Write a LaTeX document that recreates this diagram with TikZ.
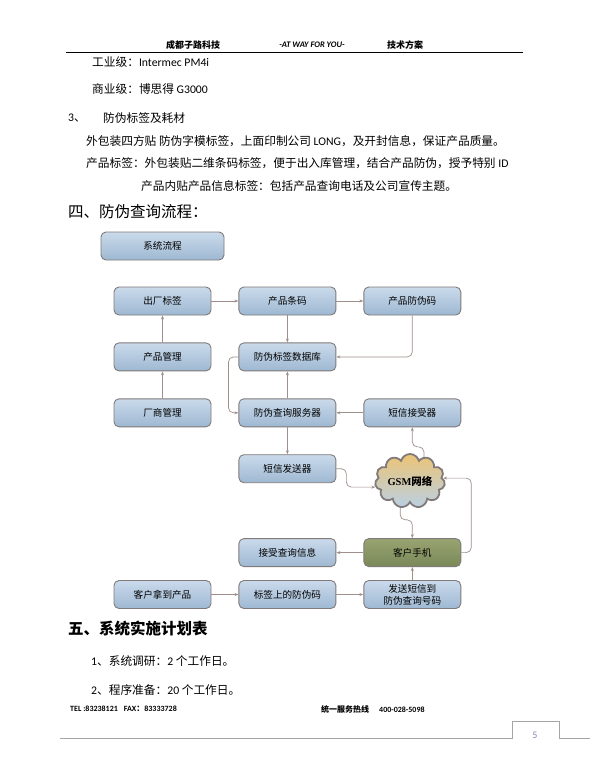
\documentclass[tikz,border=0pt]{standalone}
\usepackage{fontspec}
\setmainfont{Carlito}
\newfontfamily\cjk{Noto Sans CJK SC}
\newfontfamily\gsmserif{Liberation Serif}
\usetikzlibrary{positioning, arrows.meta, shapes.symbols}

\definecolor{boxtop}{RGB}{202,218,235}
\definecolor{boxbot}{RGB}{158,184,210}
\definecolor{boxline}{RGB}{128,122,120}
\definecolor{arrline}{RGB}{158,143,138}
\definecolor{olivetop}{RGB}{152,164,114}
\definecolor{olivebot}{RGB}{122,136,88}
\definecolor{cloudtop}{RGB}{236,196,118}
\definecolor{cloudbot}{RGB}{186,208,228}
\definecolor{pagegray}{RGB}{165,165,165}

\begin{document}
\begin{tikzpicture}[
  x=1pt, y=-1pt, >=Stealth,
  box/.style={draw=boxline, line width=0.9pt, rounded corners=5pt,
              top color=boxtop, bottom color=boxbot,
              minimum width=97pt, minimum height=28pt, inner sep=1pt,
              align=center, text=black,
              font=\cjk\fontsize{9.6}{12}\selectfont},
  arr/.style={draw=arrline, line width=0.7pt, rounded corners=5pt,
              -{Stealth[length=4pt,width=3pt]}},
  txt/.style={anchor=west, inner sep=0pt, font=\fontsize{11.7}{14}\selectfont},
  hdr/.style={inner sep=0pt, font=\bfseries\fontsize{8.5}{10}\selectfont},
]
\fill[white] (0,0) rectangle (590,764);
\useasboundingbox (0,0) rectangle (590,764);

% page header
\node[hdr, font=\cjk\bfseries\fontsize{9}{10}\selectfont] (hdfirm) at (193,45) {成都子路科技};
\node[hdr, font=\bfseries\itshape\fontsize{8.5}{10}\selectfont] (hdslogan) at (312,45) {-AT WAY FOR YOU-};
\node[hdr, font=\cjk\bfseries\fontsize{9}{10}\selectfont] (hdtitle) at (405,45) {技术方案};
\draw[line width=0.8pt] (66,52) -- (523,52);

% text above the chart
\node[txt] (gongye) at (92,62) {{\cjk 工业级：}Intermec PM4i};
\node[txt] (shangye) at (92,89) {{\cjk 商业级：博思得 }G3000};
\node[txt] (item3) at (68,118) {3{\cjk 、}};
\node[txt] (haocai) at (103,118) {\cjk 防伪标签及耗材};
\node[txt] (waibao) at (86,141) {{\cjk 外包装四方贴 防伪字模标签，上面印制公司 }LONG{\cjk ，及开封信息，保证产品质量。}};
\node[txt] (biaoqianinfo) at (86,163) {{\cjk 产品标签：外包装贴二维条码标签，便于出入库管理，结合产品防伪，授予特别 }ID};
\node[txt] (neitie) at (141,186) {\cjk 产品内贴产品信息标签：包括产品查询电话及公司宣传主题。};
\node[txt, font=\cjk\fontsize{15.5}{18}\selectfont] (title4) at (68,212) {四、防伪查询流程：};

% flow chart
\node[box, minimum width=123pt] (liucheng) at (162.5,246) {系统流程};
\node[box] (chuchang) at (162.5,301) {出厂标签};
\node[box, right=27pt of chuchang] (tiaoma) {产品条码};
\node[box, right=27pt of tiaoma] (fangweima) {产品防伪码};
\node[box, below=27pt of chuchang] (guanli) {产品管理};
\node[box, below=27pt of tiaoma] (shujuku) {防伪标签数据库};
\node[box, below=27pt of guanli] (changshang) {厂商管理};
\node[box, below=27pt of shujuku] (fuwuqi) {防伪查询服务器};
\node[box, right=27pt of fuwuqi] (jieshouqi) {短信接受器};
\node[box, below=27pt of fuwuqi] (fasongqi) {短信发送器};
\node[box, below=55pt of fasongqi] (jieshou) {接受查询信息};
\node[box, right=27pt of jieshou, top color=olivetop, bottom color=olivebot] (shouji) {客户手机};
\node[box, below=13pt of jieshou] (biaoqian) {标签上的防伪码};
\node[box, left=27pt of biaoqian] (nadao) {客户拿到产品};
\node[box, right=27pt of biaoqian] (fasong) {发送短信到\\防伪查询号码};

% GSM cloud
\node[cloud, cloud puffs=11, cloud ignores aspect, draw=boxline, line width=1.8pt,
      top color=cloudtop, bottom color=cloudbot,
      minimum width=70pt, minimum height=54pt, inner sep=0pt,
      text=black, font=\bfseries\fontsize{10.5}{12}\selectfont] (gsm) at (410,481)
      {{\gsmserif GSM}{\cjk 网络}};

% connectors
\draw[arr] (chuchang) -- (tiaoma);
\draw[arr] (tiaoma) -- (fangweima);
\draw[arr] (guanli) -- (chuchang);
\draw[arr] (changshang) -- (guanli);
\draw[arr] (tiaoma) -- (shujuku);
\draw[arr] (fangweima) |- (shujuku);
\draw[arr] (fuwuqi) -- (shujuku);
\draw[arr] (shujuku.west) -- ++(-10,0) |- (fuwuqi.west);
\draw[arr] (jieshouqi) -- (fuwuqi);
\draw[arr] (fuwuqi) -- (fasongqi);
\draw[arr] (gsm.60) -- ++(0,-10) -| (jieshouqi);
\draw[arr] (fasongqi.east) -- ++(10,0) |- (gsm.190);
\draw[arr] (gsm.250) -- ++(0,12) -| (shouji);
\draw[arr] (shouji.east) -- ++(10,0) |- (gsm.5);
\draw[arr] (shouji) -- (jieshou);
\draw[arr] (fasong) -- (shouji);
\draw[arr] (nadao) -- (biaoqian);
\draw[arr] (biaoqian) -- (fasong);

% text below the chart
\node[txt, font=\cjk\bfseries\fontsize{15.5}{18}\selectfont] (title5) at (68,629) {五、系统实施计划表};
\node[txt] (plan1) at (91,661) {1{\cjk 、系统调研：}2 {\cjk 个工作日。}};
\node[txt] (plan2) at (91,690) {2{\cjk 、程序准备：}20 {\cjk 个工作日。}};

% page footer
\node[hdr, anchor=west, font=\bfseries\fontsize{8}{10}\selectfont] (tel) at (70,709) {TEL :83238121\hspace{6pt}FAX{\cjk ：}83333728};
\node[hdr, anchor=west, font=\bfseries\fontsize{8}{10}\selectfont] (hotline) at (321,709) {{\cjk 统一服务热线}\hspace{10pt}400-028-5098};
\draw[pagegray, line width=0.8pt] (60,738) -- (512,738) -- (512,721) -- (559,721) -- (559,738) -- (590,738);
\node[inner sep=0pt, text=pagegray!80!blue, font=\fontsize{10}{12}\selectfont] (pagenum) at (535,735) {5};

\end{tikzpicture}
\end{document}
